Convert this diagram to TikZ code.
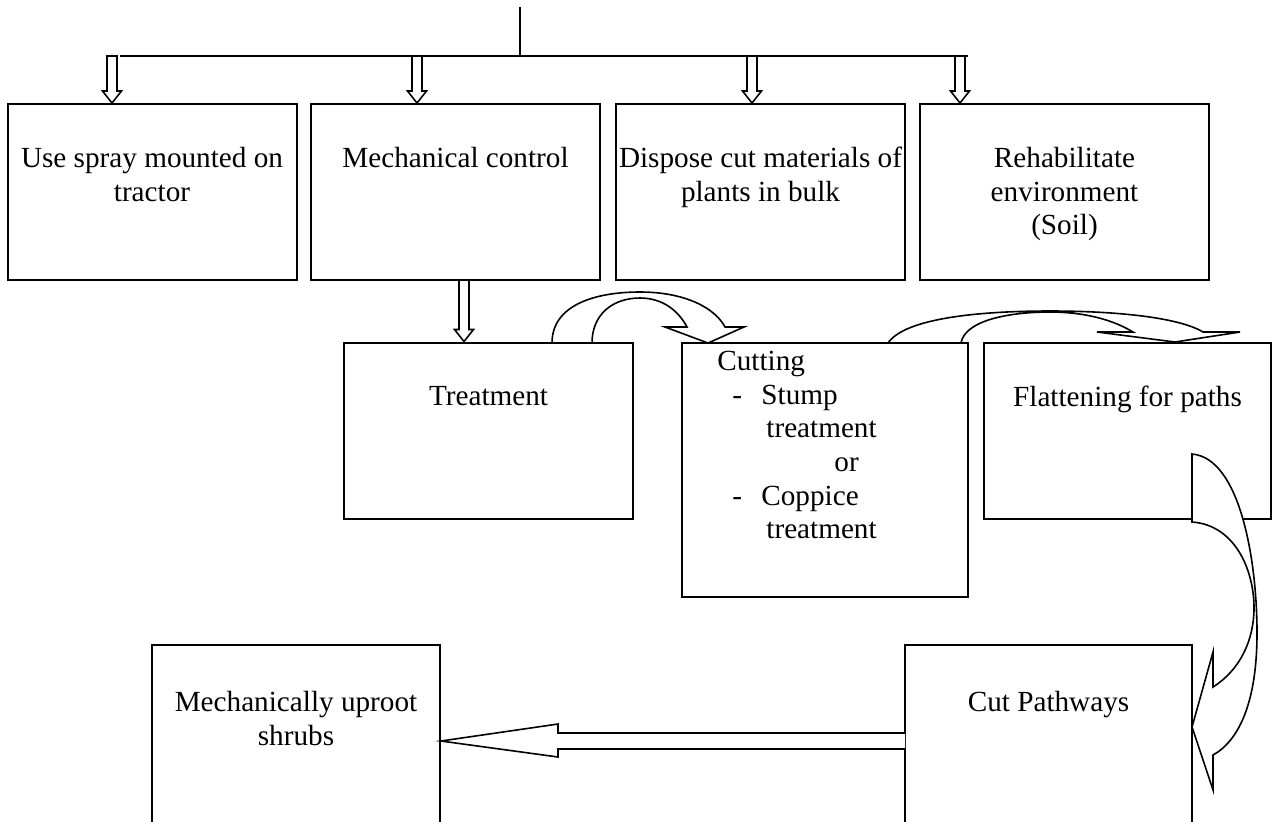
\documentclass[tikz,border=0pt]{standalone}
\usepackage{fontspec}
\setmainfont{Liberation Serif}
\usetikzlibrary{calc}
\tikzset{
  box/.style={draw, line width=1pt, minimum width=144.5pt, minimum height=88pt, inner sep=0pt},
  txt/.style={align=center, inner sep=0pt, font=\fontsize{14.6}{16.8}\selectfont},
  blockarrow/.style={draw, line width=0.8pt, fill=white, line join=miter}
}
% hollow arrow pointing down: #1 tail, #2 tip
\newcommand{\hollowdown}[2]{%
  \draw[blockarrow] ($(#1)+(-5,0)$) -- ($(#2)+(-5,-12)$) -- ($(#2)+(-9.5,-12)$) -- (#2)
    -- ($(#2)+(9.5,-12)$) -- ($(#2)+(5,-12)$) -- ($(#1)+(5,0)$) -- cycle;}
\begin{document}
\begin{tikzpicture}[x=0.5pt,y=-0.5pt]
\useasboundingbox (0,0) rectangle (1272,821);
% boxes
\node[box] (spray) at (152,192) {};
\node[box] (mech) at (455.5,192) {};
\node[box] (dispose) at (760.5,192) {};
\node[box] (rehab) at (1064.5,192) {};
\node[box] (treat) at (488.5,430.5) {};
\node[box, minimum width=143pt, minimum height=127pt] (cutting) at (825,470) {};
\node[box, minimum width=143.5pt] (flatten) at (1127.5,430.5) {};
\node[box, minimum width=144pt, minimum height=89.5pt] (uproot) at (296,734.5) {};
\node[box, minimum width=143.5pt, minimum height=89.5pt] (cutpath) at (1048.5,734.5) {};
% texts
\node[txt, anchor=north] (spraytxt) at ([yshift=-22pt]spray.north) {Use spray mounted on\\tractor};
\node[txt, anchor=north] (mechtxt) at ([yshift=-22pt]mech.north) {Mechanical control};
\node[txt, anchor=north] (disposetxt) at ([yshift=-22pt]dispose.north) {Dispose cut materials of\\plants in bulk};
\node[txt, anchor=north] (rehabtxt) at ([yshift=-22pt]rehab.north) {Rehabilitate\\environment\\(Soil)};
\node[txt, anchor=north] (treattxt) at ([yshift=-22pt]treat.north) {Treatment};
\node[txt, anchor=north] (flattentxt) at ([yshift=-22pt]flatten.north) {Flattening for paths};
\node[txt, anchor=north] (uproottxt) at ([yshift=-23.5pt]uproot.north) {Mechanically uproot\\shrubs};
\node[txt, anchor=north] (cutpathtxt) at ([yshift=-23.5pt]cutpath.north) {Cut Pathways};
\node[txt, align=left, anchor=north west] (cuttingtxt) at ([xshift=18pt,yshift=-4.5pt]cutting.north west)
  {Cutting\\
   \hspace*{7.5pt}\makebox[14.5pt][l]{-}Stump\\
   \hspace*{24.5pt}treatment\\
   \hspace*{58.5pt}or\\
   \hspace*{7.5pt}\makebox[14.5pt][l]{-}Coppice\\
   \hspace*{24.5pt}treatment};
% top branching line
\coordinate (root) at (520,7);
\coordinate (b1) at (112,56);
\coordinate (b2) at (417,56);
\coordinate (b3) at (752,56);
\coordinate (b4) at (960,56);
\coordinate (busl) at (120,56);
\coordinate (busr) at (968,56);
\draw[line width=0.8pt] (root) -- (root |- b1);
\draw[line width=0.8pt] (busl) -- (busr);
\hollowdown{b1}{b1 |- spray.north}
\hollowdown{b2}{b2 |- mech.north}
\hollowdown{b3}{b3 |- dispose.north}
\hollowdown{b4}{b4 |- rehab.north}
\coordinate (m1) at (464,280);
\hollowdown{m1}{m1 |- treat.north}
% curved arrow treatment -> cutting
\draw[blockarrow] (552,343) .. controls (552,305) and (595,292) .. (640,292)
  .. controls (685,292) and (715,308) .. (725,327) -- (744,327) -- (708,343) -- (665,327) -- (687,327)
  .. controls (678,310) and (662,298) .. (640,298) .. controls (612,298) and (592,315) .. (592,343) -- cycle;
% curved arrow cutting -> flattening
\draw[blockarrow] (888,343) .. controls (905,318) and (980,311) .. (1050,311)
  .. controls (1120,311) and (1180,318) .. (1203,332) -- (1240,332) -- (1175,342) -- (1097,332) -- (1133,332)
  .. controls (1110,318) and (1080,312) .. (1050,312) .. controls (1010,312) and (965,320) .. (961,343) -- cycle;
% curved arrow flattening -> cut pathways
\draw[blockarrow] (1192,454) .. controls (1240,458) and (1257,560) .. (1257,633)
  .. controls (1257,700) and (1240,740) .. (1213,755) -- (1213,790) -- (1192,727) -- (1213,652) -- (1213,687)
  .. controls (1240,670) and (1254,640) .. (1254,608) .. controls (1254,570) and (1235,525) .. (1192,522) -- cycle;
% arrow cut pathways -> uproot
\coordinate (bt) at (905,741);
\coordinate (tip) at (bt -| uproot.east);
\draw[blockarrow] ($(bt)+(0,-8)$) -- ($(tip)+(117,-8)$) -- ($(tip)+(117,-17)$) -- (tip)
  -- ($(tip)+(117,16)$) -- ($(tip)+(117,8)$) -- ($(bt)+(0,8)$);
\end{tikzpicture}
\end{document}
